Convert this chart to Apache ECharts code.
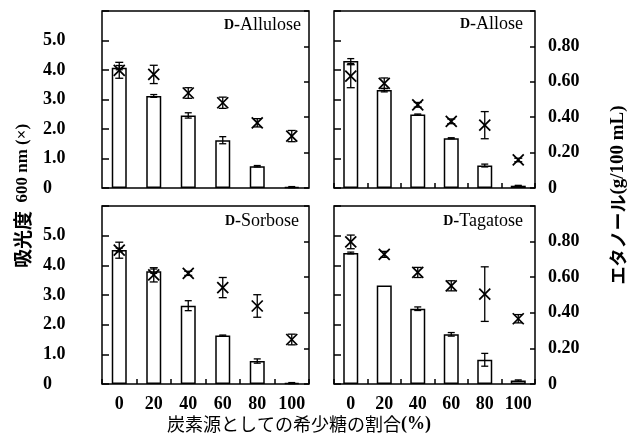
<!DOCTYPE html>
<html>
<head>
<meta charset="utf-8">
<script src="https://cdn.jsdelivr.net/npm/echarts@6/dist/echarts.min.js"></script>
<style>
  html, body { margin: 0; padding: 0; background: #fff; }
  #chart { width: 635px; height: 439px; }
</style>
</head>
<body>
<div id="chart"></div>
<script>
// Sugar ratio in the carbon source (%)
const categories = ['0', '20', '40', '60', '80', '100'];

// Panel names
const sugars = ['Allulose', 'Allose', 'Sorbose', 'Tagatose'];

// Ethanol (g/100 mL), drawn as bars on the right axis
const ethanolAllulose = [0.68, 0.52, 0.41, 0.27, 0.123, 0.005];
const ethanolAllose   = [0.717, 0.553, 0.415, 0.281, 0.127, 0.013];
const ethanolSorbose  = [0.753, 0.634, 0.44, 0.272, 0.129, 0.005];
const ethanolTagatose = [0.736, 0.553, 0.423, 0.279, 0.136, 0.019];

const ethanolErrAllulose = [0.012, 0.008, 0.015, 0.02, 0.004, 0.003];
const ethanolErrAllose   = [0.014, 0.01, 0.003, 0.003, 0.008, 0.002];
const ethanolErrSorbose  = [0.01, 0.012, 0.028, 0.003, 0.012, 0.003];
const ethanolErrTagatose = [0.005, 0, 0.01, 0.01, 0.036, 0.004];

// Absorbance at 600 nm, drawn as crosses on the left axis
const absAllulose = [3.99, 3.85, 3.22, 2.89, 2.21, 1.76];
const absAllose   = [3.79, 3.55, 2.82, 2.26, 2.13, 0.95];
const absSorbose  = [4.51, 3.68, 3.73, 3.25, 2.63, 1.50];
const absTagatose = [4.79, 4.37, 3.76, 3.31, 3.03, 2.20];

const absErrAllulose = [0.27, 0.31, 0.18, 0.19, 0.14, 0.19];
const absErrAllose   = [0.39, 0.18, 0.08, 0.08, 0.46, 0.06];
const absErrSorbose  = [0.27, 0.24, 0.07, 0.34, 0.38, 0.18];
const absErrTagatose = [0.23, 0.10, 0.17, 0.17, 0.92, 0.14];

// Axis tick values
const absTicks = [0, 1, 2, 3, 4, 5, 6];
const ethanolTicks = [0, 0.2, 0.4, 0.6, 0.8, 1.0];

const ethanol = [ethanolAllulose, ethanolAllose, ethanolSorbose, ethanolTagatose];
const ethanolErr = [ethanolErrAllulose, ethanolErrAllose, ethanolErrSorbose, ethanolErrTagatose];
const absorbance = [absAllulose, absAllose, absSorbose, absTagatose];
const absErr = [absErrAllulose, absErrAllose, absErrSorbose, absErrTagatose];

const SERIF = '"Liberation Serif", "Times New Roman", serif';
const CJK = '"Noto Sans CJK JP", sans-serif';

const panels = [
  { left: 102, top: 11, width: 207, height: 177, labelRight: 301, labelY: 25, col: 0, row: 0 },
  { left: 334, top: 11, width: 201, height: 177, labelRight: 523, labelY: 24, col: 1, row: 0 },
  { left: 102, top: 206, width: 207, height: 178, labelRight: 299, labelY: 221, col: 0, row: 1 },
  { left: 334, top: 206, width: 201, height: 178, labelRight: 523, labelY: 221, col: 1, row: 1 }
];

const grid = [], xAxis = [], yAxis = [], series = [], graphic = [];

function renderCross(params, api) {
  const c = api.coord([api.value(0), api.value(1)]);
  const hi = api.coord([api.value(0), api.value(1) + api.value(2)]);
  const lo = api.coord([api.value(0), api.value(1) - api.value(2)]);
  const cx = c[0], cy = c[1];
  const w = 5.5, h = 5.5, cap = 4;
  const st = { stroke: '#000', lineWidth: 1.3 };
  return {
    type: 'group',
    children: [
      { type: 'line', shape: { x1: cx, y1: hi[1], x2: cx, y2: lo[1] }, style: st },
      { type: 'line', shape: { x1: cx - cap, y1: hi[1], x2: cx + cap, y2: hi[1] }, style: st },
      { type: 'line', shape: { x1: cx - cap, y1: lo[1], x2: cx + cap, y2: lo[1] }, style: st },
      { type: 'line', shape: { x1: cx - w, y1: cy - h, x2: cx + w, y2: cy + h }, style: { stroke: '#000', lineWidth: 1.7 } },
      { type: 'line', shape: { x1: cx - w, y1: cy + h, x2: cx + w, y2: cy - h }, style: { stroke: '#000', lineWidth: 1.7 } }
    ]
  };
}

function renderBarErr(params, api) {
  if (api.value(2) <= 0) return null;
  const hi = api.coord([api.value(0), api.value(1) + api.value(2)]);
  const lo = api.coord([api.value(0), api.value(1) - api.value(2)]);
  const cx = hi[0], cap = 3.5;
  const st = { stroke: '#000', lineWidth: 1.3 };
  return {
    type: 'group',
    children: [
      { type: 'line', shape: { x1: cx, y1: hi[1], x2: cx, y2: lo[1] }, style: st },
      { type: 'line', shape: { x1: cx - cap, y1: hi[1], x2: cx + cap, y2: hi[1] }, style: st },
      { type: 'line', shape: { x1: cx - cap, y1: lo[1], x2: cx + cap, y2: lo[1] }, style: st }
    ]
  };
}

panels.forEach((p, i) => {
  grid.push({
    left: p.left, top: p.top, width: p.width, height: p.height,
    show: true, borderColor: '#000', borderWidth: 1.5, backgroundColor: 'transparent',
    containLabel: false
  });
  xAxis.push({
    type: 'category', gridIndex: i, data: categories, boundaryGap: true,
    axisLine: { show: false },
    axisTick: { show: i !== 0, inside: true, length: 5, interval: 0, lineStyle: { color: '#000', width: 1.5 } },
    axisLabel: {
      show: p.row === 1, margin: 11, interval: 0,
      color: '#000', fontFamily: SERIF, fontWeight: 'bold', fontSize: 18
    },
    splitLine: { show: false }
  });
  // absorbance axis
  yAxis.push({
    type: 'value', gridIndex: i, position: 'left',
    min: absTicks[0], max: absTicks[absTicks.length - 1], interval: 1,
    axisLine: { show: false },
    axisTick: { show: true, inside: true, length: 7, lineStyle: { color: '#000', width: 1.5 } },
    splitLine: { show: false },
    axisLabel: {
      show: p.col === 0, align: 'left', margin: 59,
      color: '#000', fontFamily: SERIF, fontWeight: 'bold', fontSize: 18,
      formatter: v => v >= 6 ? '' : (v === 0 ? '0' : v.toFixed(1))
    }
  });
  // ethanol axis
  yAxis.push({
    type: 'value', gridIndex: i, position: 'right',
    min: ethanolTicks[0], max: ethanolTicks[ethanolTicks.length - 1], interval: 0.2,
    axisLine: { show: false },
    axisTick: { show: true, inside: true, length: 5, lineStyle: { color: '#000', width: 1.5 } },
    splitLine: { show: false },
    axisLabel: {
      show: p.col === 1, align: 'left', margin: 13,
      color: '#000', fontFamily: SERIF, fontWeight: 'bold', fontSize: 18,
      formatter: v => v >= 0.99 ? '' : (v === 0 ? '0' : v.toFixed(2))
    }
  });

  series.push({
    type: 'bar', name: 'ethanol-' + sugars[i], xAxisIndex: i, yAxisIndex: 2 * i + 1,
    data: ethanol[i], barWidth: 15, silent: true,
    itemStyle: { color: '#fff', borderColor: '#000', borderWidth: 1.5 }
  });
  series.push({
    type: 'custom', name: 'ethanol-err-' + sugars[i], xAxisIndex: i, yAxisIndex: 2 * i + 1,
    renderItem: renderBarErr, silent: true, z: 3,
    data: ethanol[i].map((v, k) => [k, v, ethanolErr[i][k]])
  });
  series.push({
    type: 'custom', name: 'abs-' + sugars[i], xAxisIndex: i, yAxisIndex: 2 * i,
    renderItem: renderCross, silent: true, z: 4,
    data: absorbance[i].map((v, k) => [k, v, absErr[i][k]])
  });

  graphic.push({
    type: 'text', x: p.labelRight, y: p.labelY, z: 10,
    style: {
      text: '{d|D}-' + sugars[i],
      align: 'right', verticalAlign: 'middle',
      fill: '#000', fontFamily: SERIF, fontSize: 18,
      rich: { d: { fontFamily: SERIF, fontWeight: 'bold', fontSize: 14, fill: '#000' } }
    }
  });
});

// Axis titles
graphic.push({
  type: 'text', x: 23, y: 196, rotation: Math.PI / 2, z: 10,
  style: {
    text: '{c|吸光度}  600 nm (×)',
    align: 'center', verticalAlign: 'middle',
    fill: '#000', fontFamily: SERIF, fontWeight: 'bold', fontSize: 17,
    rich: { c: { fontFamily: CJK, fontWeight: 'bold', fontSize: 19, fill: '#000' } }
  }
});
graphic.push({
  type: 'text', x: 618, y: 195, rotation: Math.PI / 2, z: 10,
  style: {
    text: '{c|エタノール}(g/100 mL)',
    align: 'center', verticalAlign: 'middle',
    fill: '#000', fontFamily: SERIF, fontWeight: 'bold', fontSize: 19,
    rich: { c: { fontFamily: CJK, fontWeight: 'bold', fontSize: 18, fill: '#000' } }
  }
});
graphic.push({
  type: 'text', x: 299, y: 424, z: 10,
  style: {
    text: '{c|炭素源としての希少糖の割合}(%)',
    align: 'center', verticalAlign: 'middle',
    fill: '#000', fontFamily: SERIF, fontWeight: 'bold', fontSize: 18,
    rich: { c: { fontFamily: CJK, fontSize: 18, fill: '#000' } }
  }
});

const chart = echarts.init(document.getElementById('chart'), null, { renderer: 'canvas' });
chart.setOption({
  animation: false,
  backgroundColor: '#fff',
  grid, xAxis, yAxis, series, graphic
});
</script>
</body>
</html>
